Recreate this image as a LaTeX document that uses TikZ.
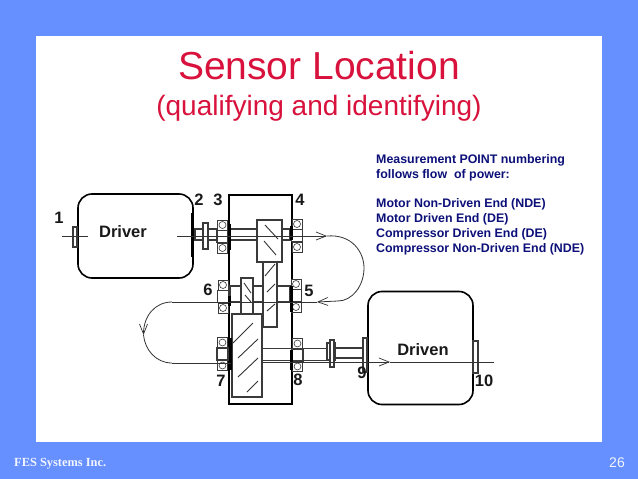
\documentclass[tikz,border=0pt]{standalone}
\usepackage{fontspec}
\usepackage{xcolor}
\setmainfont{Liberation Sans}
\newfontfamily\footfont{Liberation Serif}
\usetikzlibrary{arrows.meta,positioning}
\definecolor{slideblue}{HTML}{6690FF}
\definecolor{titlered}{HTML}{D8123C}
\definecolor{notenavy}{HTML}{0C1078}
\definecolor{footwhite}{HTML}{F2F5FF}
\definecolor{partgrey}{HTML}{3A3A3A}

\begin{document}
\begin{tikzpicture}[
 x=1pt,y=-1pt,
 machine/.style={draw=black,line width=1.6pt,rounded corners=14pt,inner sep=0pt},
 housing/.style={draw=black,line width=2.2pt,inner sep=0pt},
 part/.style={draw=partgrey,line width=1.1pt,fill=white,inner sep=0pt},
 ball/.style={draw=partgrey,line width=1pt,fill=white,minimum size=10pt,inner sep=0pt},
 wallbar/.style={fill=black,inner sep=0pt,minimum width=3pt},
 num/.style={font=\fontsize{16.5}{16.5}\selectfont\bfseries,inner sep=0pt,text=black!90},
 flow/.style={draw=black!80,line width=.8pt},
 flowarr/.style={flow,-{Straight Barb[length=10pt,width=8pt,line width=.7pt]}},
 hatch/.style={draw=black!80,line width=.9pt}
]
\fill[slideblue] (0,0) rectangle (638,479);
\fill[white] (36,36) rectangle (602,442);

% titles and note
\node[anchor=base,text=titlered,font=\fontsize{39}{39}\selectfont] (title) at (319,79) {Sensor Location};
\node[anchor=base,text=titlered,font=\fontsize{28}{28}\selectfont] (subtitle) at (319,115) {(qualifying and identifying)};
\node[anchor=north west,inner sep=0pt,align=left,text=notenavy,font=\fontsize{12.4}{15}\selectfont\bfseries] (note) at (376,154.5)
 {Measurement POINT numbering\\follows flow\ \ of power:\\[14pt]Motor Non-Driven End (NDE)\\Motor Driven End (DE)\\Compressor Driven End (DE)\\Compressor Non-Driven End (NDE)};
\node[anchor=base west,inner sep=0pt,text=footwhite,font=\fontsize{12.4}{12}\selectfont\footfont\bfseries] (company) at (14,466) {FES Systems Inc.};
\node[anchor=base east,inner sep=0pt,text=footwhite,font=\fontsize{14}{14}\selectfont] (page) at (625,467) {26};

% machines
\node[machine,minimum width=115pt,minimum height=84pt] (driver) at (135.5,236) {};
\node[machine,minimum width=105pt,minimum height=113pt] (driven) at (420.5,348) {};
\node[housing,minimum width=63pt,minimum height=209pt] (gearbox) at (260.5,299.5) {};
\node[font=\fontsize{16.5}{16.5}\selectfont\bfseries,inner sep=0pt,text=black!90] (drivername) at (123,232) {Driver};
\node[font=\fontsize{16.5}{16.5}\selectfont\bfseries,inner sep=0pt,text=black!90] (drivenname) at (423,350) {Driven};
\node[part,minimum width=4pt,minimum height=20pt] (tabone) at (75,237) {};
\node[part,minimum width=4pt,minimum height=34pt] (tabnine) at (365,355) {};
\node[part,minimum width=5pt,minimum height=32pt] (tabten) at (475.5,357) {};
\node[wallbar,minimum height=44pt] (driverbar) at (192,235) {};

% shafts
\node[part,minimum width=62pt,minimum height=11pt] (topshaft) at (226,234.5) {};
\node[part,minimum width=8pt,minimum height=11pt] (topshaftb) at (286,234.5) {};
\node[part,minimum width=60pt,minimum height=16pt] (midshaft) at (260,294) {};
\node[part,minimum width=65pt,minimum height=12pt] (lowshaft) at (294.5,354.5) {};
\node[part,minimum width=28pt,minimum height=10pt] (outshaft) at (349,353) {};
\node[part,minimum width=5pt,minimum height=26pt] (topdisc) at (205.5,236) {};
\node[part,minimum width=8pt,minimum height=17pt] (lowflange) at (331,351.5) {};
\node[part,minimum width=4pt,minimum height=27pt] (lowdisc) at (332,353.5) {};

% bearings
\foreach \brg/\bx/\by in {brgthree/222.5/236.5,brgfour/297/235.5,brgfive/296/295.5,brgsix/223/296.5,brgseven/222.5/354,brgeight/297.5/355} {
 \node[part,minimum width=11pt,minimum height=12pt] (\brg) at (\bx,\by) {};
 \node[ball] (\brg t) at (\bx,\by-11.5) {};
 \node[ball] (\brg b) at (\bx,\by+11.5) {};
 \node[draw=partgrey,circle,line width=.6pt,minimum size=7pt,inner sep=0pt] at (\brg t) {};
 \node[draw=partgrey,circle,line width=.6pt,minimum size=7pt,inner sep=0pt] at (\brg b) {};
}

% gears
\node[part,minimum width=14pt,minimum height=65pt] (pinion) at (270,294.5) {};
\node[part,minimum width=25pt,minimum height=42pt] (topgear) at (269.5,241) {};
\node[part,minimum width=12pt,minimum height=36pt] (midgear) at (247,296) {};
\node[part,minimum width=30pt,minimum height=83pt] (lowgear) at (247,355.5) {};
\foreach \ax/\ay/\ex/\ey in {265/225/278/239,264/241/276/255,265/276/275/264,267/292/275/284,267/311/275/304,244/283/251/293,245/295/251/302,233/343/253/323,238/358/258/339,238/377/258/358,247/392/258/381} {
 \draw[hatch] (\ax,\ay)--(\ex,\ey);
}
\foreach \bar/\bx/\by/\bh in {barthree/229.5/237/26,barfour/291.5/233/14,barfive/291.5/299/26,barsix/229/301/10,barseven/230/354/32,bareight/291.5/360/20} {
 \node[wallbar,minimum height=\bh pt] (\bar) at (\bx,\by) {};
}

% flow of power
\coordinate (flowa) at (62,236);
\coordinate (flowb) at (88,236);
\coordinate (flowc) at (177,236);
\coordinate (flowd) at (327,236);
\coordinate (flowe) at (338,301);
\coordinate (flowf) at (317,302);
\coordinate (flowg) at (172,302);
\coordinate (flowh) at (143.5,335);
\coordinate (flowi) at (172,363);
\coordinate (flowj) at (390,362);
\coordinate (flowk) at (494,362);
\draw[flow] (flowa)--(flowb);
\draw[flowarr] (flowc)--(flowd);
\draw[flow] (flowd) .. controls (352,234) and (364,252) .. (364,268) .. controls (364,286) and (352,301) .. (flowe);
\draw[flowarr] (flowe)--(flowf);
\draw[flow] (flowf)--(flowg);
\draw[flowarr] (flowg) .. controls (155,302) and (143.5,316) .. (flowh);
\draw[flow] (flowh) .. controls (145,350) and (156,363) .. (flowi);
\draw[flow] (flowi)--(lowgear.west |- flowi);
\draw[flowarr] (lowgear.east |- flowj)--(flowj);
\draw[flow] (flowj)--(flowk);

% point numbers
\node[num] (ptone) at (59,218) {1};
\node[num] (pttwo) at (199,200) {2};
\node[num] (ptthree) at (218,200) {3};
\node[num] (ptfour) at (300,200) {4};
\node[num] (ptfive) at (309,291) {5};
\node[num] (ptsix) at (208,290) {6};
\node[num] (ptseven) at (221,381) {7};
\node[num] (pteight) at (298,380) {8};
\node[num] (ptnine) at (362,373) {9};
\node[num] (ptten) at (484,381) {10};
\end{tikzpicture}
\end{document}
